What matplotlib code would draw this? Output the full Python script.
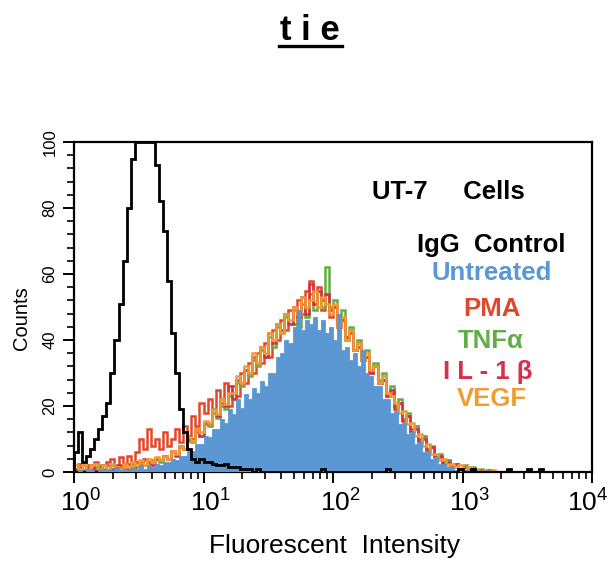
import numpy as np
import matplotlib
matplotlib.use('Agg')
import matplotlib.pyplot as plt
from matplotlib.lines import Line2D
from matplotlib.ticker import FixedLocator, MultipleLocator, LogLocator, NullFormatter

plt.rcParams['font.family'] = ['Liberation Sans', 'DejaVu Sans']
plt.rcParams['mathtext.fontset'] = 'custom'
plt.rcParams['mathtext.rm'] = 'Liberation Sans'

# 32 channels per decade, 10^0 .. 10^4
CHANNELS_PER_DECADE = 32
N_BINS = 4 * CHANNELS_PER_DECADE

igg_control = ([6, 12, 3, 5, 7, 10, 13, 17, 21, 30, 40, 51, 64, 80, 95,
                100, 100, 100, 100, 100, 93, 82, 73, 58, 42, 30, 19, 12, 7, 4,
                3, 4, 3, 3, 2.5, 2, 2, 2.5, 1.5, 1.5, 1.5, 1, 1, 1, 0, 1]
               + [0] * 15 + [1] + [0] * 15 + [1] + [0] * 17 + [1, 0, 0, 1]
               + [0] * 8 + [1, 0, 0, 0, 0, 1, 0, 0, 1])

untreated = [0, 0.5, 0, 1, 0.5, 0, 1, 0.5, 1, 0.5, 1.5, 0.5, 1, 0.5, 1.5, 1,
             2, 1, 2, 1.5, 2.5, 2, 3, 3, 4, 3.5, 5, 5, 6.5, 6.5, 8.5, 8.5,
             11, 10.5, 13, 13, 16, 15, 19, 17.5, 22, 19.5, 23.5, 22, 25.5, 24, 27.5, 26,
             30, 30, 35, 36, 40, 39, 44, 49, 43, 46, 45, 47, 43, 46, 42, 44,
             40, 48, 37, 38, 34, 36, 32, 37, 30, 29, 26, 26, 22, 22, 18, 18.5,
             14.5, 15, 11.5, 12, 8.5, 9, 6, 6.5, 4, 4.5, 2.5, 2.5, 1.5, 1.5, 0.5, 1,
             0.5, 0.5, 0, 0.5, 0, 0.5]

pma = [1, 2.5, 0.5, 2, 1, 3, 1, 2, 3,
       4, 2, 4.5, 2.5, 5, 3, 6,
       10, 7, 13, 8, 10, 7, 12, 8, 10, 13, 9, 14, 11,
       17, 14, 21, 18,
       22, 19, 25, 21, 27, 20, 26, 23,
       30, 27, 33, 30, 36, 33, 39, 35, 43, 40,
       46, 43, 49, 45, 52, 48, 55, 58, 51, 56, 49, 54, 47,
       50, 44, 46, 40, 43, 37, 39, 34, 35, 30, 32, 27, 28, 23, 24, 20, 21,
       16, 17, 13, 14, 10, 11, 7, 7.5, 5, 4.5, 3, 3.5, 2, 2.5, 1, 1.5, 0.5, 1, 0.5,
       0.5, 0, 0.5, 0]

tnf_alpha = [1, 0, 2, 1, 0.5, 1.5, 2, 1, 0, 2, 1, 1.5, 2,
             1, 2.5, 1.5, 3, 3.5, 2, 3.5, 4, 3, 5, 4, 6, 5.5, 7.5, 7, 9.5,
             9, 12, 11, 14.5, 14, 18, 16.5, 20, 19, 23, 22, 27,
             26, 31, 29, 34, 32, 37, 35, 41, 38, 44,
             42, 47, 45, 49, 44, 51, 47, 54, 49, 55, 50, 62, 50,
             52, 45, 49, 41, 44, 37, 40, 34, 37, 31, 33, 28, 30, 24, 26, 20, 22,
             16, 18, 12.5, 14, 9.5, 10.5, 7, 8, 5, 5.5, 3, 3.5, 2, 2.5, 1, 2, 0.5, 1.5, 0.5,
             1, 0, 0.5, 0]

il_1b = [0.5, 1.5, 0, 1.5, 2, 0.5, 1.5, 0.5, 2, 1, 0, 2, 1,
         2.5, 1, 3, 2, 4, 3, 2, 4, 3.5, 5, 4, 6.5, 5, 8, 7, 10,
         10, 13, 11, 15, 15, 19, 17, 22, 20, 26, 22, 28,
         27, 31, 30, 35, 33, 38, 35, 42, 39, 45,
         43, 48, 45, 50, 47, 53, 48, 57, 51, 55, 52, 54, 49,
         50, 44, 46, 41, 42, 37, 38, 34, 35, 30, 32, 27, 28, 23, 25, 19, 21,
         15.5, 17, 12, 13, 9, 10, 6.5, 7.5, 4.5, 5, 2.5, 3, 1.5, 2.5, 1, 1.5, 0.5, 1, 0,
         0.5, 0, 0.5, 0]

vegf = [2, 1, 2.5, 0.5, 2, 2.5, 1, 2, 0.5, 2.5, 1.5, 0.5, 2.5,
        1.5, 3, 2, 3.5, 2, 4, 3, 4.5, 3.5, 5, 4, 6.5, 5.5, 8, 7, 10.5,
        9.5, 13, 12, 15.5, 15, 19, 17.5, 22, 20.5, 24, 24, 29,
        27, 32, 30, 36, 33, 38, 36, 42, 40, 45,
        42, 48, 46, 50, 48, 53, 50, 52, 55, 50, 53, 51, 48,
        51, 44, 47, 40, 43, 37, 39, 34, 36, 31, 32, 27, 29, 24, 23, 21, 18,
        18.5, 14.5, 15, 11, 11.5, 8, 8.5, 5.5, 5.5, 3.5, 4, 2, 2.5, 1.5, 2, 0.5, 1.5, 0.5, 1,
        0, 0.5, 0, 0.5]

decades = [1, 10, 100, 1000, 10000]
x_tick_labels = ['$10^{0}$', '$10^{1}$', '$10^{2}$', '$10^{3}$', '$10^{4}$']
y_ticks = [0, 20, 40, 60, 80, 100]

BLUE = '#5a97d3'
PMA_RED = '#e0482b'
TNF_GREEN = '#62ad45'
IL1_RED = '#d8304a'
VEGF_ORANGE = '#f09c30'


def channels(values):
    arr = np.zeros(N_BINS)
    arr[:len(values)] = values
    return arr


edges = 10 ** (np.arange(N_BINS + 1) / CHANNELS_PER_DECADE)

fig = plt.figure(figsize=(6.08, 5.61), dpi=100)
ax = fig.add_axes([74 / 608, 1 - 472 / 561, 518 / 608, 330 / 561])

# treated samples as outlines, untreated filled, isotype control on top
for vals, col in [(pma, PMA_RED), (tnf_alpha, TNF_GREEN), (il_1b, IL1_RED), (vegf, VEGF_ORANGE)]:
    ax.stairs(channels(vals), edges, color=col, lw=1.8, zorder=2)
ax.stairs(channels(untreated), edges, fill=True, facecolor=BLUE, edgecolor=BLUE, lw=0.6, zorder=3)
ax.stairs(channels(igg_control), edges, color='black', lw=2.0, zorder=4)

ax.set_xscale('log')
ax.set_xlim(1, 1e4)
ax.set_ylim(0, 100)

ax.xaxis.set_major_locator(FixedLocator(decades))
ax.xaxis.set_minor_locator(LogLocator(base=10, subs=np.arange(2, 10)))
ax.xaxis.set_minor_formatter(NullFormatter())
ax.tick_params(axis='x', labelbottom=False)
# decade labels sit a little right of their ticks; the last one is pulled inside
for v, lbl in zip(decades, x_tick_labels):
    dx = -4 if v == decades[-1] else 7
    ax.annotate(lbl, xy=(v, 0), xycoords=('data', 'axes fraction'),
                xytext=(dx, -39), textcoords='offset pixels',
                ha='center', va='baseline', fontsize=19)

ax.yaxis.set_major_locator(FixedLocator(y_ticks))
ax.yaxis.set_minor_locator(MultipleLocator(4))
ax.set_yticklabels([str(v) for v in y_ticks], rotation=90, va='center', fontsize=12)

ax.tick_params(which='major', direction='out', length=8, width=1.4, pad=4)
ax.tick_params(which='minor', direction='out', length=5, width=1.2)
for side in ax.spines.values():
    side.set_linewidth(1.6)

fig.text(335 / 608, 1 - 546 / 561, 'Fluorescent  Intensity', ha='center', va='center', fontsize=19)
fig.text(22 / 608, 1 - 318 / 561, 'Counts', ha='center', va='center', rotation=90, fontsize=14.5)

# title with underline
fig.text(310 / 608, 1 - 30 / 561, 't i e', ha='center', va='center', fontsize=25, fontweight='bold')
fig.add_artist(Line2D([279 / 608, 342 / 608], [1 - 46 / 561, 1 - 46 / 561], color='black', lw=2.4))

legend_rows = [
    ('IgG  Control', 'black', 491, 245),
    ('Untreated', BLUE, 492, 273),
    ('PMA', PMA_RED, 492, 309),
    ('TNFα', TNF_GREEN, 491, 341),
    ('I L - 1 β', IL1_RED, 488, 372),
    ('VEGF', VEGF_ORANGE, 492, 399),
]
fig.text(372 / 608, 1 - 192 / 561, 'UT-7     Cells', ha='left', va='center',
         fontsize=18.5, fontweight='bold', color='black')
for label, col, px, py in legend_rows:
    fig.text(px / 608, 1 - py / 561, label, ha='center', va='center',
             fontsize=18.5, fontweight='bold', color=col)

fig.savefig('out.png', dpi=100)
